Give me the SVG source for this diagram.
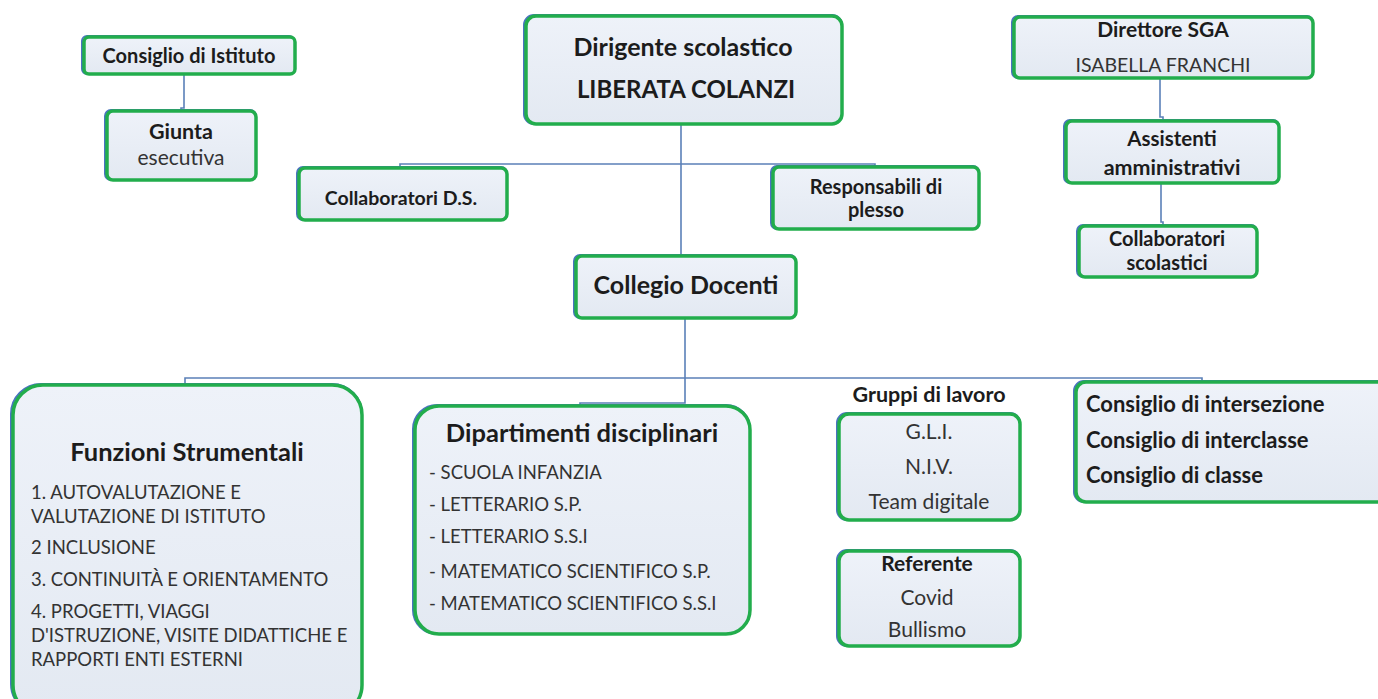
<svg xmlns="http://www.w3.org/2000/svg" width="1378" height="699" viewBox="0 0 1378 699">
<defs>
<linearGradient id="fill" x1="0" y1="0" x2="0" y2="1">
<stop offset="0" stop-color="#eef2f9"/>
<stop offset="1" stop-color="#e3e9f2"/>
</linearGradient>
<style>
.box{fill:url(#fill);stroke:#22ad4c;stroke-width:3.5}
.sh{fill:none;stroke:#4a72c0;stroke-width:2}
.con{fill:none;stroke:#5b80b8;stroke-width:1.6}
text{font-family:Lato,"Liberation Sans",sans-serif;fill:#1c1c1c}
.b{font-weight:bold}
.r{fill:#333}
.c{text-anchor:middle}
</style>
</defs>
<rect width="1378" height="699" fill="#ffffff"/>
<g id="connectors">
<path class="con" d="M184 74 V108 H181 V111"/>
<path class="con" d="M681 124 V255"/>
<path class="con" d="M400 168 V164 H875 V167"/>
<path class="con" d="M685 318 V403 H580 V405"/>
<path class="con" d="M185 384 V378 H1202 V381"/>
<path class="con" d="M1160 78 V117 H1163 V120"/>
<path class="con" d="M1161 183 V222 H1163 V225"/>
</g>
<g id="consiglio-istituto">
<rect class="sh" x="82" y="36" width="212" height="38" rx="5"/>
<rect class="box" x="84" y="37" width="211" height="37" rx="5"/>
<text class="b c" x="189" y="63" font-size="20">Consiglio di Istituto</text>
</g>
<g id="giunta">
<rect class="sh" x="105" y="110" width="151" height="70" rx="6"/>
<rect class="box" x="107" y="111" width="149" height="69" rx="6"/>
<text class="b c" x="181" y="139" font-size="21.5">Giunta</text>
<text class="r c" x="181" y="165" font-size="21">esecutiva</text>
</g>
<g id="dirigente">
<rect class="sh" x="524" y="15" width="318" height="109" rx="10"/>
<rect class="box" x="526" y="16" width="316" height="108" rx="10"/>
<text class="b c" x="683" y="56" font-size="25">Dirigente scolastico</text>
<text class="b c" x="686" y="98" font-size="24">LIBERATA COLANZI</text>
</g>
<g id="direttore">
<rect class="sh" x="1012" y="16" width="301" height="62" rx="6"/>
<rect class="box" x="1014" y="17" width="299" height="61" rx="6"/>
<text class="b c" x="1163" y="37" font-size="21">Direttore SGA</text>
<text class="r c" x="1163" y="72" font-size="19.5">ISABELLA FRANCHI</text>
</g>
<g id="assistenti">
<rect class="sh" x="1064" y="120" width="215" height="63" rx="6"/>
<rect class="box" x="1066" y="121" width="213" height="62" rx="6"/>
<text class="b c" x="1172" y="146" font-size="20.5">Assistenti</text>
<text class="b c" x="1172" y="175" font-size="21.5">amministrativi</text>
</g>
<g id="collaboratori-scolastici">
<rect class="sh" x="1077" y="225" width="180" height="52" rx="6"/>
<rect class="box" x="1079" y="226" width="178" height="51" rx="6"/>
<text class="b c" x="1167" y="246" font-size="20">Collaboratori</text>
<text class="b c" x="1167" y="270" font-size="20">scolastici</text>
</g>
<g id="collaboratori-ds">
<rect class="sh" x="297" y="167" width="210" height="53" rx="6"/>
<rect class="box" x="299" y="168" width="208" height="52" rx="6"/>
<text class="b c" x="401" y="205" font-size="19.5">Collaboratori D.S.</text>
</g>
<g id="responsabili">
<rect class="sh" x="771" y="166" width="208" height="63" rx="6"/>
<rect class="box" x="773" y="167" width="206" height="62" rx="6"/>
<text class="b c" x="876" y="194" font-size="20">Responsabili di</text>
<text class="b c" x="876" y="217" font-size="20">plesso</text>
</g>
<g id="collegio">
<rect class="sh" x="574" y="255" width="222" height="63" rx="6"/>
<rect class="box" x="576" y="256" width="220" height="62" rx="6"/>
<text class="b c" x="686" y="294" font-size="25">Collegio Docenti</text>
</g>
<g id="funzioni">
<rect class="sh" x="11" y="384" width="351" height="330" rx="30"/>
<rect class="box" x="13" y="385" width="349" height="330" rx="30"/>
<text class="b c" x="187" y="461" font-size="25.5">Funzioni Strumentali</text>
<text class="r" x="31" y="499" font-size="18.5">1. AUTOVALUTAZIONE E</text>
<text class="r" x="31" y="523" font-size="18.5">VALUTAZIONE DI ISTITUTO</text>
<text class="r" x="31" y="554" font-size="18.5">2 INCLUSIONE</text>
<text class="r" x="31" y="586" font-size="18.5">3. CONTINUITÀ E ORIENTAMENTO</text>
<text class="r" x="31" y="618" font-size="18.5">4. PROGETTI, VIAGGI</text>
<text class="r" x="31" y="642" font-size="18.5">D'ISTRUZIONE, VISITE DIDATTICHE E</text>
<text class="r" x="31" y="666" font-size="18.5">RAPPORTI ENTI ESTERNI</text>
</g>
<g id="dipartimenti">
<rect class="sh" x="413" y="405" width="337" height="229" rx="24"/>
<rect class="box" x="415" y="406" width="335" height="228" rx="24"/>
<text class="b c" x="582" y="442" font-size="25.5">Dipartimenti disciplinari</text>
<text class="r" x="429" y="479" font-size="18.5">- SCUOLA INFANZIA</text>
<text class="r" x="429" y="511" font-size="18.5">- LETTERARIO S.P.</text>
<text class="r" x="429" y="543" font-size="18.5">- LETTERARIO S.S.I</text>
<text class="r" x="429" y="578" font-size="18.5">- MATEMATICO SCIENTIFICO S.P.</text>
<text class="r" x="429" y="610" font-size="18.5">- MATEMATICO SCIENTIFICO S.S.I</text>
</g>
<g id="gruppi">
<text class="b c" x="929" y="402" font-size="21.5">Gruppi di lavoro</text>
<rect class="sh" x="837" y="413" width="183" height="107" rx="10"/>
<rect class="box" x="839" y="414" width="181" height="106" rx="10"/>
<text class="r c" x="929" y="439" font-size="21">G.L.I.</text>
<text class="r c" x="929" y="474" font-size="21">N.I.V.</text>
<text class="r c" x="929" y="509" font-size="21">Team digitale</text>
</g>
<g id="referente">
<rect class="sh" x="837" y="550" width="183" height="96" rx="10"/>
<rect class="box" x="839" y="551" width="181" height="95" rx="10"/>
<text class="b c" x="927" y="571" font-size="21">Referente</text>
<text class="r c" x="927" y="605" font-size="21">Covid</text>
<text class="r c" x="927" y="637" font-size="21">Bullismo</text>
</g>
<g id="consigli">
<rect class="sh" x="1074" y="381" width="320" height="121" rx="10"/>
<rect class="box" x="1076" y="382" width="320" height="120" rx="10"/>
<text class="b" x="1086" y="412" font-size="22">Consiglio di intersezione</text>
<text class="b" x="1086" y="448" font-size="22">Consiglio di interclasse</text>
<text class="b" x="1086" y="483" font-size="22">Consiglio di classe</text>
</g>
</svg>
